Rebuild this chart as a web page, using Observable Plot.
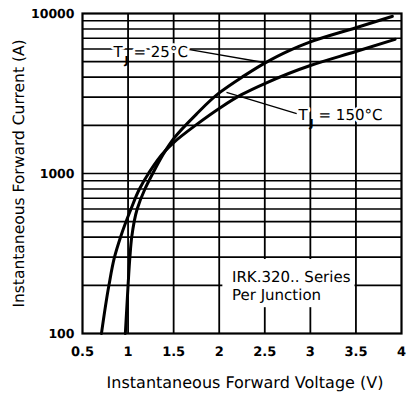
<!DOCTYPE html>
<html>
<head>
<meta charset="utf-8">
<script src="https://cdn.jsdelivr.net/npm/d3@7"></script>
<script src="https://cdn.jsdelivr.net/npm/@observablehq/plot@0.6"></script>
<style>
  html, body { margin: 0; padding: 0; background: white; }
  svg text { font-family: "DejaVu Sans", sans-serif; -webkit-font-smoothing: antialiased; text-rendering: geometricPrecision; }
</style>
</head>
<body>
<div id="chart"></div>
<script>
// Curve T_J = 25°C
const volt25 = [0.97, 1.00, 1.02, 1.04, 1.10, 1.185, 1.27, 1.41, 1.50, 1.75, 2.00, 2.25, 2.50, 2.75, 3.00, 3.50, 3.90];
const curr25 = [100, 200, 300, 400, 600, 800, 1000, 1390, 1650, 2350, 3190, 4000, 4900, 5800, 6650, 8150, 9600];
// Curve T_J = 150°C
const volt150 = [0.708, 0.79, 0.851, 0.917, 1.032, 1.125, 1.224, 1.41, 1.50, 1.75, 2.00, 2.25, 2.50, 3.00, 3.50, 3.93];
const curr150 = [100, 200, 300, 400, 600, 800, 1000, 1390, 1560, 2020, 2550, 3120, 3650, 4730, 5790, 6900];

// Axes
const xTicks = [0.5, 1, 1.5, 2, 2.5, 3, 3.5, 4];
const xGrid = [1, 1.5, 2, 2.5, 3, 3.5];
const yTicks = [100, 1000, 10000];
const yGrid = [200, 300, 400, 500, 600, 700, 800, 900, 1000, 2000, 3000, 4000, 5000, 6000, 7000, 8000, 9000];
const xLabel = "Instantaneous Forward Voltage (V)";
const yLabel = "Instantaneous Forward Current (A)";

// Annotations (anchor points in data units)
const tempLabels = [
  {temp: "= 25°C", voltage: 0.84, current: 5700},
  {temp: "= 150°C", voltage: 2.87, current: 2300}
];
const leaders = [
  {v1: 1.66, i1: 5960, v2: 2.49, i2: 4940},
  {v1: 2.08, i1: 3210, v2: 2.85, i2: 2370}
];
const noteLines = ["IRK.320.. Series", "Per Junction"];
const noteVoltage = 2.14;
const noteCurrents = [225, 173];
const noteBox = {v1: 2.04, v2: 3.49, i1: 145, i2: 290};

const curves = [
  ...volt25.map((v, k) => ({series: "25", voltage: v, current: curr25[k]})),
  ...volt150.map((v, k) => ({series: "150", voltage: v, current: curr150[k]}))
];

const font = "DejaVu Sans";
const chart = Plot.plot({
  width: 407,
  height: 399,
  marginLeft: 82,
  marginRight: 6,
  marginTop: 13,
  marginBottom: 66,
  style: {background: "white", color: "black", fontFamily: font},
  x: {domain: [0.5, 4]},
  y: {type: "log", domain: [100, 10000]},
  marks: [
    Plot.ruleY(yGrid, {stroke: "black", strokeWidth: 1.6}),
    Plot.ruleX(xGrid, {stroke: "black", strokeWidth: 1.8}),
    Plot.frame({stroke: "black", strokeWidth: 2.2}),
    Plot.axisX({ticks: xTicks, tickSize: 0, tickPadding: 13, fontSize: 13, fontWeight: "bold", label: null,
      tickFormat: d => String(d)}),
    Plot.axisY({ticks: yTicks, tickSize: 0, tickPadding: 8, fontSize: 12.5, fontWeight: "bold", label: null,
      tickFormat: d3.format("d")}),
    Plot.text([xLabel], {frameAnchor: "bottom", dy: 49, dx: 3, lineAnchor: "middle", textAnchor: "middle",
      fontSize: 16, text: d => d, fill: "black"}),
    Plot.text([yLabel], {frameAnchor: "left", dx: -63, rotate: -90, lineAnchor: "middle", textAnchor: "middle",
      fontSize: 15.5, text: d => d, fill: "black"}),
    // note box
    Plot.rect([noteBox], {x1: "v1", x2: "v2", y1: "i1", y2: "i2", fill: "white"}),
    Plot.text(noteLines, {x: () => noteVoltage, y: (d, k) => noteCurrents[k], text: d => d, textAnchor: "start",
      fontSize: 15, fill: "black"}),
    // leaders
    Plot.link(leaders, {x1: "v1", y1: "i1", x2: "v2", y2: "i2", stroke: "black", strokeWidth: 1.3}),
    // curves
    Plot.line(curves, {x: "voltage", y: "current", z: "series", curve: "monotone-y", stroke: "black", strokeWidth: 3}),
    // temperature labels: T, rest, subscript J
    Plot.text(tempLabels, {x: "voltage", y: "current", text: () => "T", textAnchor: "start", fontSize: 15,
      fill: "black", stroke: "white", strokeWidth: 5}),
    Plot.text(tempLabels, {x: "voltage", y: "current", text: "temp", textAnchor: "start", dx: 20, fontSize: 15,
      fill: "black", stroke: "white", strokeWidth: 5}),
    Plot.text(tempLabels, {x: "voltage", y: "current", text: () => "J", textAnchor: "start", dx: 11, dy: 8, fontSize: 11,
      fontWeight: "bold", fill: "black"})
  ]
});
document.getElementById("chart").appendChild(chart);
</script>
</body>
</html>
